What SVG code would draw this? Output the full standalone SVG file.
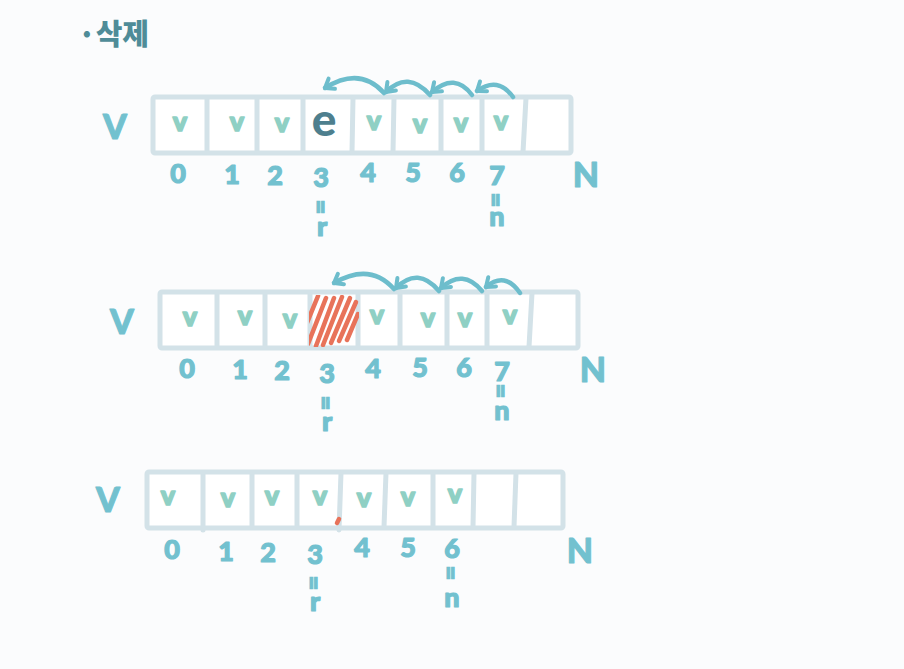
<svg xmlns="http://www.w3.org/2000/svg" width="904" height="669" viewBox="0 0 904 669">
<defs>
<style>
.bg{fill:#fbfcfd}
.box{fill:#ffffff;stroke:#d3e2e8;stroke-width:5;stroke-linejoin:round}
.div{stroke:#d3e2e8;stroke-width:5;stroke-linecap:round}
.chk{font-family:"Lato","Noto Sans",sans-serif;font-weight:900;font-size:27px;fill:#8fd0c4;stroke:#8fd0c4;stroke-width:1.6;stroke-linejoin:round;text-anchor:middle}
.lbl{font-family:"Lato","Noto Sans",sans-serif;font-weight:900;font-size:27px;fill:#72c1cf;stroke:#72c1cf;stroke-width:1.2;stroke-linejoin:round;text-anchor:middle}
.eq{font-family:"Lato","Noto Sans",sans-serif;font-weight:900;font-size:25px;fill:#72c1cf;stroke:#72c1cf;stroke-width:1.2;text-anchor:middle;dominant-baseline:central}
.big{font-family:"Lato","Noto Sans",sans-serif;font-weight:900;font-size:34px;fill:#72c1cf;stroke:#72c1cf;stroke-width:1;stroke-linejoin:round;text-anchor:middle}
.e{font-family:"Lato","Noto Sans",sans-serif;font-weight:900;font-size:46px;fill:#4e7f8e;text-anchor:middle}
.arc{fill:none;stroke:#6dbdcc;stroke-width:4.5;stroke-linecap:round;marker-end:url(#ah)}
.hatch{stroke:#e8735a;stroke-width:4.5;stroke-linecap:round}
.title{font-family:"Noto Sans CJK KR","Noto Sans",sans-serif;font-weight:900;font-size:29px;fill:#4f8c98}
</style>
<marker id="ah" markerUnits="userSpaceOnUse" markerWidth="20" markerHeight="20" viewBox="-12 -10 16 20" refX="0" refY="0" orient="auto">
<path d="M-8,-6 L0,0 L-8,6" fill="none" stroke="#6dbdcc" stroke-width="4" stroke-linecap="round" stroke-linejoin="round"/>
</marker>
<clipPath id="hc"><rect x="309" y="295" width="50" height="52"/></clipPath>
</defs>
<rect class="bg" x="0" y="0" width="904" height="669"/>

<g id="title"><text class="title" x="78" y="45">·삭제</text></g>

<g id="array1">
<text class="big" x="115" y="139">V</text>
<rect class="box" x="153" y="97" width="418" height="56" rx="2"/>
<line class="div" x1="207" y1="98" x2="207" y2="152"/>
<line class="div" x1="257" y1="98" x2="257" y2="152"/>
<line class="div" x1="303" y1="98" x2="303" y2="152"/>
<line class="div" x1="353" y1="98" x2="352" y2="152"/>
<line class="div" x1="394" y1="98" x2="393" y2="152"/>
<line class="div" x1="441" y1="98" x2="441" y2="152"/>
<line class="div" x1="482" y1="98" x2="482" y2="152"/>
<line class="div" x1="526" y1="98" x2="523" y2="152"/>
<text class="chk" x="180" y="131">v</text>
<text class="chk" x="237" y="131">v</text>
<text class="chk" x="282" y="132">v</text>
<text class="e" x="324" y="136">e</text>
<text class="chk" x="374" y="130">v</text>
<text class="chk" x="420" y="133">v</text>
<text class="chk" x="461" y="132">v</text>
<text class="chk" x="501" y="130">v</text>
<text class="lbl" x="178" y="183" font-size="21">0</text>
<text class="lbl" x="232" y="184">1</text>
<text class="lbl" x="275" y="185">2</text>
<text class="lbl" x="321" y="187" font-size="30">3</text>
<text class="lbl" x="368" y="182">4</text>
<text class="lbl" x="413" y="182">5</text>
<text class="lbl" x="457" y="182">6</text>
<text class="lbl" x="497" y="185">7</text>
<text class="big" x="586" y="187">N</text>
<text class="eq" transform="translate(322 207) rotate(90)">=</text>
<text class="lbl" x="322" y="236">r</text>
<text class="eq" transform="translate(497 200) rotate(90)">=</text>
<text class="lbl" x="497" y="226">n</text>
</g>

<g id="array2">
<text class="big" x="122" y="334">V</text>
<rect class="box" x="160" y="292" width="418" height="56" rx="2"/>
<line class="div" x1="217" y1="293" x2="217" y2="347"/>
<line class="div" x1="265" y1="293" x2="265" y2="347"/>
<line class="div" x1="310" y1="293" x2="310" y2="347"/>
<line class="div" x1="358" y1="293" x2="358" y2="347"/>
<line class="div" x1="400" y1="293" x2="400" y2="347"/>
<line class="div" x1="447" y1="293" x2="447" y2="347"/>
<line class="div" x1="487" y1="293" x2="487" y2="347"/>
<line class="div" x1="532" y1="293" x2="529" y2="347"/>
<g clip-path="url(#hc)">
<line class="hatch" x1="300" y1="340" x2="318" y2="296"/>
<line class="hatch" x1="308" y1="344" x2="326" y2="298"/>
<line class="hatch" x1="316" y1="346" x2="334" y2="298"/>
<line class="hatch" x1="323" y1="345" x2="342" y2="297"/>
<line class="hatch" x1="331" y1="343" x2="350" y2="298"/>
<line class="hatch" x1="339" y1="341" x2="356" y2="302"/>
<line class="hatch" x1="347" y1="340" x2="358" y2="314"/>
</g>
<text class="chk" x="190" y="326">v</text>
<text class="chk" x="245" y="325">v</text>
<text class="chk" x="290" y="328">v</text>
<text class="chk" x="377" y="324">v</text>
<text class="chk" x="428" y="327">v</text>
<text class="chk" x="465" y="327">v</text>
<text class="chk" x="510" y="324">v</text>
<text class="lbl" x="187" y="378" font-size="21">0</text>
<text class="lbl" x="240" y="379">1</text>
<text class="lbl" x="282" y="380">2</text>
<text class="lbl" x="327" y="383" font-size="30">3</text>
<text class="lbl" x="373" y="378">4</text>
<text class="lbl" x="420" y="377">5</text>
<text class="lbl" x="464" y="377">6</text>
<text class="lbl" x="502" y="381">7</text>
<text class="big" x="593" y="382">N</text>
<text class="eq" transform="translate(327 403) rotate(90)">=</text>
<text class="lbl" x="327" y="431">r</text>
<text class="eq" transform="translate(502 391) rotate(90)">=</text>
<text class="lbl" x="502" y="420">n</text>
</g>

<g id="array3">
<text class="big" x="108" y="512">V</text>
<rect class="box" x="147" y="472" width="416" height="56" rx="2"/>
<line class="div" x1="203" y1="473" x2="203" y2="530"/>
<line class="div" x1="252" y1="473" x2="252" y2="527"/>
<line class="div" x1="297" y1="473" x2="297" y2="527"/>
<line class="div" x1="341" y1="473" x2="339" y2="530"/>
<line class="div" x1="386" y1="473" x2="384" y2="527"/>
<line class="div" x1="433" y1="473" x2="433" y2="527"/>
<line class="div" x1="474" y1="473" x2="473" y2="527"/>
<line class="div" x1="516" y1="473" x2="514" y2="527"/>
<line x1="337" y1="523" x2="339" y2="519" stroke="#e8735a" stroke-width="4.5" stroke-linecap="round"/>
<text class="chk" x="168" y="505">v</text>
<text class="chk" x="228" y="507">v</text>
<text class="chk" x="272" y="505">v</text>
<text class="chk" x="320" y="505">v</text>
<text class="chk" x="364" y="507">v</text>
<text class="chk" x="408" y="506">v</text>
<text class="chk" x="455" y="503">v</text>
<text class="lbl" x="172" y="559" font-size="21">0</text>
<text class="lbl" x="226" y="561">1</text>
<text class="lbl" x="268" y="562">2</text>
<text class="lbl" x="315" y="564" font-size="30">3</text>
<text class="lbl" x="362" y="557">4</text>
<text class="lbl" x="408" y="557">5</text>
<text class="lbl" x="452" y="558">6</text>
<text class="big" x="580" y="563">N</text>
<text class="eq" transform="translate(315 583) rotate(90)">=</text>
<text class="lbl" x="315" y="611">r</text>
<text class="eq" transform="translate(452 573) rotate(90)">=</text>
<text class="lbl" x="452" y="607">n</text>
</g>

<g id="connectors">
<path class="arc" d="M513,97 Q498,76 477,91"/>
<path class="arc" d="M472,95 Q455,72 432,92"/>
<path class="arc" d="M430,95 Q408,70 386,92"/>
<path class="arc" d="M384,93 Q360,66 325,88"/>
<path class="arc" d="M520,293 Q505,271 486,287"/>
<path class="arc" d="M482,291 Q463,268 441,288"/>
<path class="arc" d="M439,291 Q418,266 396,288"/>
<path class="arc" d="M394,289 Q370,262 334,283"/>
</g>
</svg>
